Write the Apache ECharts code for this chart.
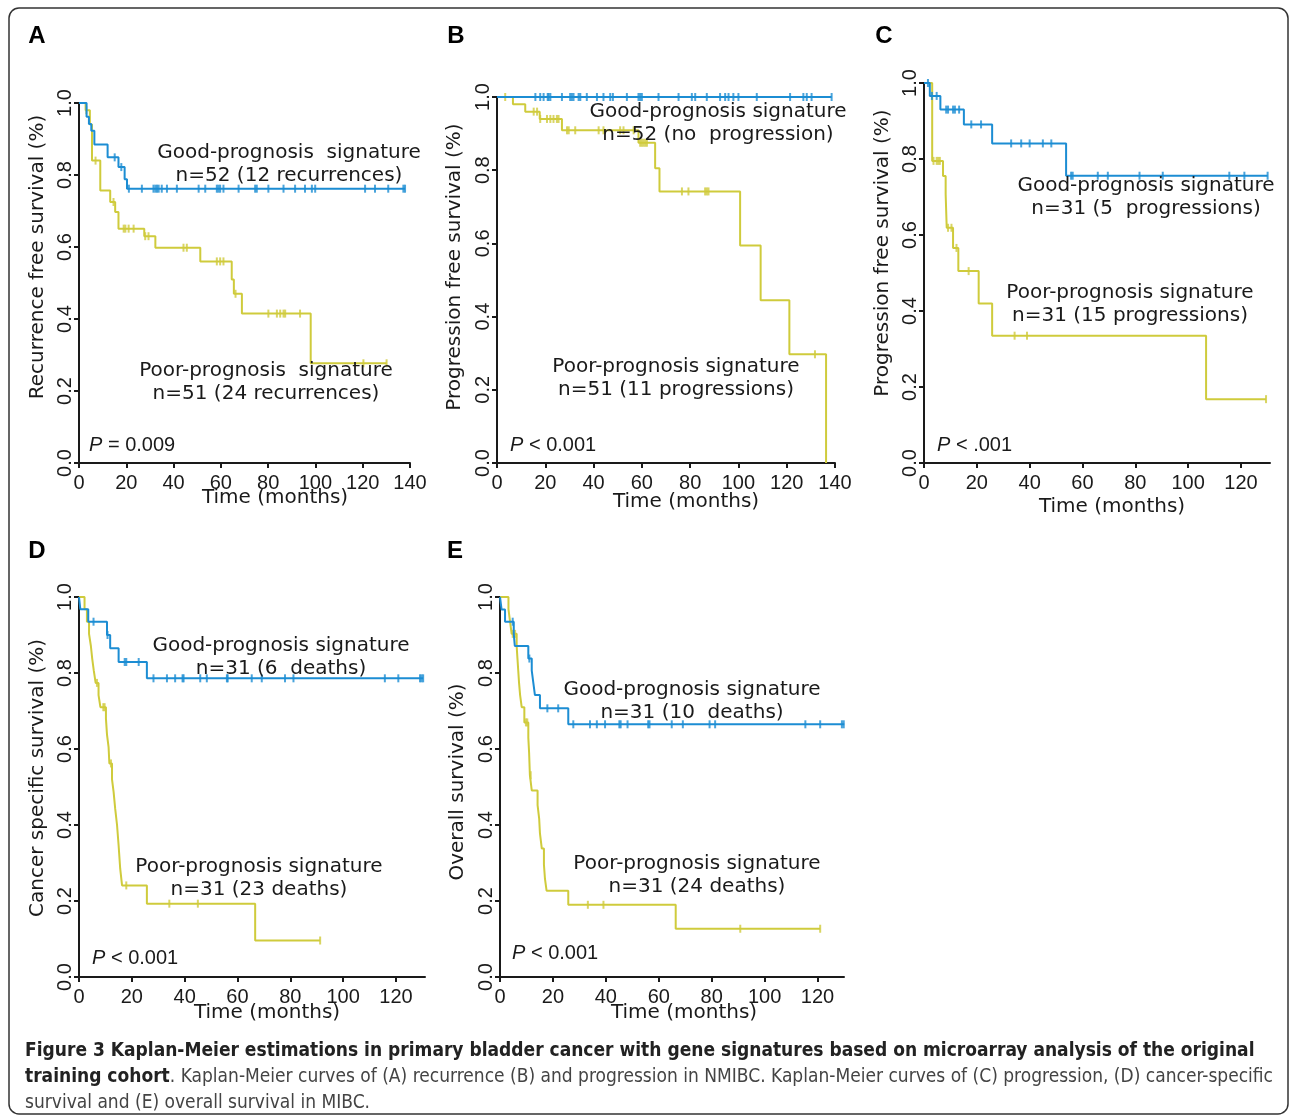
<!DOCTYPE html>
<html><head><meta charset="utf-8">
<script src="https://cdn.jsdelivr.net/npm/echarts@6/dist/echarts.min.js"></script>
<style>html,body{margin:0;padding:0;background:#fff}#c{width:1290px;height:1120px}</style>
</head><body><div id="c"></div><script>
// ---- tick labels ----
const xTicks140 = [0, 20, 40, 60, 80, 100, 120, 140];
const xTicks120 = [0, 20, 40, 60, 80, 100, 120];
const yTicks = [0, 0.2, 0.4, 0.6, 0.8, 1.0];

// ---- Panel A: recurrence (NMIBC) ----
const aGood = [[0,1],[3.2,0.962],[4.2,0.942],[5.2,0.923],[6.5,0.885],[12.1,0.849],[16.7,0.822],[19.3,0.788],[20.3,0.762],[137.9,0.762]];
const aGoodCens = [15.1,17.9,21.1,26.6,31.5,32.3,33,33.7,35,37.2,41.4,50.6,53.4,58.3,59,59.7,61.1,67.5,74.5,75.2,80.1,86.5,91.4,95.6,98.5,99.9,121,125.2,130.8,137.2,137.9];
const aPoor = [[0,1],[2.8,0.98],[4.6,0.94],[5.5,0.84],[9,0.757],[13.2,0.725],[15.3,0.697],[16.7,0.651],[27.6,0.63],[32.3,0.598],[51.3,0.56],[64.6,0.51],[65.5,0.47],[68.9,0.415],[98,0.277],[130.1,0.277]];
const aPoorCens = [3.1,7,14.6,18.9,19.6,21,23.1,28,29.4,44.2,45.6,58.3,59.7,61.1,66.2,80.1,83.7,85.1,86.5,87.2,93.5,120.3,130.1];

// ---- Panel B: progression (NMIBC) ----
const bGood = [[0,1],[138.6,1]];
const bGoodCens = [15.9,17.9,19.3,21,21.4,22.1,26.9,30.3,31,31.7,33.8,34.5,37.2,41.4,44.1,46.9,48,53.8,58.6,59.3,60,66.9,75.2,80.7,82.1,86.9,92.4,94.5,95.9,97.9,100,107.6,121.4,126.9,128.3,130.3,138.6];
const bPoor = [[0,1],[6.6,0.98],[11.7,0.96],[17.7,0.94],[26.9,0.909],[58.6,0.875],[65.5,0.805],[67.3,0.742],[100.7,0.594],[109.2,0.445],[121.1,0.297],[136.3,0]];
const bPoorCens = [3.4,15.2,16.6,17.9,20.7,22.1,23.4,24.8,25.5,29,29.7,32.4,42.1,44.1,51,52.4,56.6,59.3,60,60.7,61.4,62.1,76.6,79.3,86.2,86.9,87.6,131.7];

// ---- Panel C: progression (MIBC) ----
const cGood = [[0,1],[2.2,0.966],[6.2,0.930],[15.1,0.891],[25.8,0.841],[53.8,0.756],[130.1,0.756]];
const cGoodCens = [1.5,3,4.8,8.4,9.1,11,11.7,13.3,17.9,21.6,33,36.8,40,45,48.2,55.7,56.3,65.8,69.6,81.6,90.4,115.6,121.3,130.1];
const cPoor = [[0,1],[3.1,0.795],[7.2,0.755],[8.2,0.707],[8.6,0.619],[11,0.566],[13,0.505],[20.7,0.42],[25.8,0.335],[106.8,0.168],[129.5,0.168]];
const cPoorCens = [3.6,4.8,5.4,6,9.1,10.4,12.3,16.9,34.3,39,129.5];

// ---- Panel D: cancer specific survival (MIBC) ----
const dGood = [[0,1],[0.5,0.968],[3.5,0.935],[10.6,0.90],[11.8,0.865],[15,0.829],[25.7,0.786],[130.3,0.786]];
const dGoodCens = [5.5,10.8,17.3,17.9,22.6,28.2,33.3,36.4,39.2,39.6,45.9,48.4,56,56.3,65.4,69.2,78,81.2,115.8,120.9,129.1,129.7,130.3];
const dPoor = [[0,1],[2.1,0.968],[3.0,0.935],[3.8,0.903],[4.5,0.871],[5.0,0.838],[5.6,0.806],[6.3,0.774],[7.4,0.742],[8.1,0.71],[10.2,0.68],[10.6,0.638],[11.2,0.605],[11.5,0.562],[12.5,0.52],[13.1,0.487],[13.7,0.443],[14.4,0.40],[15,0.346],[15.6,0.285],[16.3,0.241],[25.7,0.193],[66.7,0.096],[91.3,0.096]];
const dPoorCens = [6.8,9.2,9.7,12.1,17.9,34.2,45,91.3];

// ---- Panel E: overall survival (MIBC) ----
const eGood = [[0,1],[0.6,0.967],[1.9,0.935],[5.2,0.903],[5.6,0.871],[10.7,0.838],[12,0.806],[12.6,0.774],[13.2,0.742],[15.1,0.707],[25.8,0.665],[130.1,0.665]];
const eGoodCens = [4.8,11.1,17.9,22,27.7,34,36.6,39.7,45.1,45.6,48.2,56,56.5,64.9,69.1,79.2,81.3,115.4,121,129.2,129.9];
const ePoor = [[0,1],[3.2,0.968],[3.8,0.935],[4.4,0.903],[6.3,0.87],[6.6,0.838],[6.9,0.806],[7.2,0.774],[7.6,0.742],[8.2,0.71],[9.2,0.67],[10.7,0.63],[11,0.59],[11.3,0.531],[12,0.491],[14.2,0.452],[14.8,0.417],[15.1,0.378],[15.8,0.338],[16.6,0.296],[17,0.258],[17.6,0.227],[25.8,0.19],[66.4,0.127],[121,0.127]];
const ePoorCens = [4.8,5.7,9.8,10.3,11.6,33.2,39.1,90.8,121];

const panelLetters = ['A','B','C','D','E'];
const yNames = ['Recurrence free survival (%)','Progression free survival (%)','Progression free survival (%)','Cancer specific survival (%)','Overall survival (%)'];
const xName = 'Time (months)';
const goodText = [['Good-prognosis  signature','n=52 (12 recurrences)'],['Good-prognosis signature','n=52 (no  progression)'],['Good-prognosis signature','n=31 (5  progressions)'],['Good-prognosis signature','n=31 (6  deaths)'],['Good-prognosis signature','n=31 (10  deaths)']];
const poorText = [['Poor-prognosis  signature','n=51 (24 recurrences)'],['Poor-prognosis signature','n=51 (11 progressions)'],['Poor-prognosis signature','n=31 (15 progressions)'],['Poor-prognosis signature','n=31 (23 deaths)'],['Poor-prognosis signature','n=31 (24 deaths)']];
const pValues = [' = 0.009',' < 0.001',' < .001',' < 0.001',' < 0.001'];

// ---- layout (pixels) ----
const layout = [
  {grid:{left:79, top:103, width:331, height:360}, xMax:140, ticks:xTicks140, letter:[37,36], yName:[38,257], xNameP:[275,498], good:[289,153], poor:[266,371], p:[89,445]},
  {grid:{left:497, top:97, width:338, height:366}, xMax:140, ticks:xTicks140, letter:[456,36], yName:[455,267], xNameP:[686,502], good:[718,112], poor:[676,367], p:[510,445]},
  {grid:{left:924, top:83, width:346, height:380}, xMax:131, ticks:xTicks120, letter:[884,36], yName:[883,253], xNameP:[1112,507], good:[1146,186], poor:[1130,293], p:[937,445]},
  {grid:{left:79, top:597, width:346, height:380}, xMax:131, ticks:xTicks120, letter:[37,551], yName:[38,778], xNameP:[267,1013], good:[281,646], poor:[259,867], p:[92,958]},
  {grid:{left:500, top:597, width:344, height:380}, xMax:130, ticks:xTicks120, letter:[455,551], yName:[458,782], xNameP:[684,1013], good:[692,690], poor:[697,864], p:[512,953]}
];
const curves = [[aGood,aGoodCens,aPoor,aPoorCens],[bGood,bGoodCens,bPoor,bPoorCens],[cGood,cGoodCens,cPoor,cPoorCens],[dGood,dGoodCens,dPoor,dPoorCens],[eGood,eGoodCens,ePoor,ePoorCens]];

const BLUE = '#1c8dd3', YEL = '#cfcb3c', INK = '#1a1a1a';
const TICKF = '"Liberation Sans", Arial, sans-serif';
const TXTF = '"DejaVu Sans", sans-serif';

function stepVal(curve, t){ let v = curve[0][1]; for (const p of curve){ if (p[0] <= t + 1e-9) v = p[1]; else break; } return v; }

const grids = [], xAxes = [], yAxes = [], series = [], graphic = [];
layout.forEach((L, i) => {
  grids.push(Object.assign({containLabel:false}, L.grid));
  xAxes.push({type:'value', gridIndex:i, min:0, max:L.xMax, interval:20,
    axisLine:{show:true, onZero:false, lineStyle:{color:INK, width:2}},
    axisTick:{show:true, length:5, customValues:L.ticks, lineStyle:{color:INK, width:2}},
    axisLabel:{customValues:L.ticks, fontSize:20, fontFamily:TICKF, color:INK, margin:10},
    splitLine:{show:false}});
  yAxes.push({type:'value', gridIndex:i, min:0, max:1, interval:0.2,
    axisLine:{show:true, lineStyle:{color:INK, width:2}},
    axisTick:{show:true, length:5, lineStyle:{color:INK, width:2}},
    axisLabel:{rotate:90, fontSize:20, fontFamily:TICKF, color:INK, margin:4, formatter:v => v.toFixed(1)},
    splitLine:{show:false}});
  const [g, gc, p, pc] = curves[i];
  series.push({type:'line', xAxisIndex:i, yAxisIndex:i, step:'end', data:p, showSymbol:false, symbol:'none', lineStyle:{color:YEL, width:2}, z:2, animation:false});
  series.push({type:'scatter', xAxisIndex:i, yAxisIndex:i, data:pc.map(t => [t, stepVal(p, t)]), symbol:'rect', symbolSize:[2,8], itemStyle:{color:YEL}, z:2, animation:false});
  series.push({type:'line', xAxisIndex:i, yAxisIndex:i, step:'end', data:g, showSymbol:false, symbol:'none', lineStyle:{color:BLUE, width:2}, z:3, animation:false});
  series.push({type:'scatter', xAxisIndex:i, yAxisIndex:i, data:gc.map(t => [t, stepVal(g, t)]), symbol:'rect', symbolSize:[2,8], itemStyle:{color:BLUE}, z:3, animation:false});

  graphic.push({type:'text', x:L.letter[0], y:L.letter[1], style:{text:panelLetters[i], fontSize:24, fontWeight:'bold', fontFamily:TICKF, fill:'#000', align:'center', verticalAlign:'middle'}});
  graphic.push({type:'text', x:L.yName[0], y:L.yName[1], rotation:Math.PI/2, style:{text:yNames[i], fontSize:20, fontFamily:TXTF, fill:INK, align:'center', verticalAlign:'middle'}});
  graphic.push({type:'text', x:L.xNameP[0], y:L.xNameP[1], style:{text:xName, fontSize:20, fontFamily:TXTF, fill:INK, align:'center', verticalAlign:'middle'}});
  graphic.push({type:'text', x:L.good[0], y:L.good[1] + 11, z:10, style:{text:goodText[i].join('\n'), fontSize:20, lineHeight:23, fontFamily:TXTF, fill:INK, align:'center', verticalAlign:'middle'}});
  graphic.push({type:'text', x:L.poor[0], y:L.poor[1] + 11, z:10, style:{text:poorText[i].join('\n'), fontSize:20, lineHeight:23, fontFamily:TXTF, fill:INK, align:'center', verticalAlign:'middle'}});
  graphic.push({type:'text', x:L.p[0], y:L.p[1], style:{text:'{i|P}' + pValues[i], fontSize:20, fontFamily:TICKF, fill:INK, align:'left', verticalAlign:'middle', rich:{i:{fontStyle:'italic', fontSize:20, fontFamily:TICKF, fill:INK}}}});
});

const CAPF = '"DejaVu Sans Condensed", "Liberation Sans Narrow", "Roboto Condensed", "Noto Sans", sans-serif';
const capLine1 = 'Figure 3 Kaplan-Meier estimations in primary bladder cancer with gene signatures based on microarray analysis of the original';
const capLine2b = 'training cohort';
const capLine2 = '. Kaplan-Meier curves of (A) recurrence (B) and progression in NMIBC. Kaplan-Meier curves of (C) progression, (D) cancer-specific';
const capLine3 = 'survival and (E) overall survival in MIBC.';
graphic.push({type:'text', x:25, y:1051, style:{text:capLine1, fontSize:19, fontWeight:'bold', fontFamily:CAPF, fill:'#222', align:'left', verticalAlign:'middle'}});
graphic.push({type:'text', x:25, y:1077, style:{text:'{b|' + capLine2b + '}{n|' + capLine2 + '}', align:'left', verticalAlign:'middle', rich:{b:{fontSize:19, fontWeight:'bold', fontFamily:CAPF, fill:'#222'}, n:{fontSize:19, fontFamily:CAPF, fill:'#444'}}}});
graphic.push({type:'text', x:25, y:1103, style:{text:capLine3, fontSize:19, fontFamily:CAPF, fill:'#444', align:'left', verticalAlign:'middle'}});
graphic.push({type:'rect', shape:{x:9, y:8, width:1279, height:1106, r:10}, style:{fill:'none', stroke:'#333', lineWidth:1.5}, z:-1});

const chart = echarts.init(document.getElementById('c'), null, {renderer:'canvas'});
chart.setOption({animation:false, backgroundColor:'#fff', grid:grids, xAxis:xAxes, yAxis:yAxes, series:series, graphic:graphic});
</script></body></html>
